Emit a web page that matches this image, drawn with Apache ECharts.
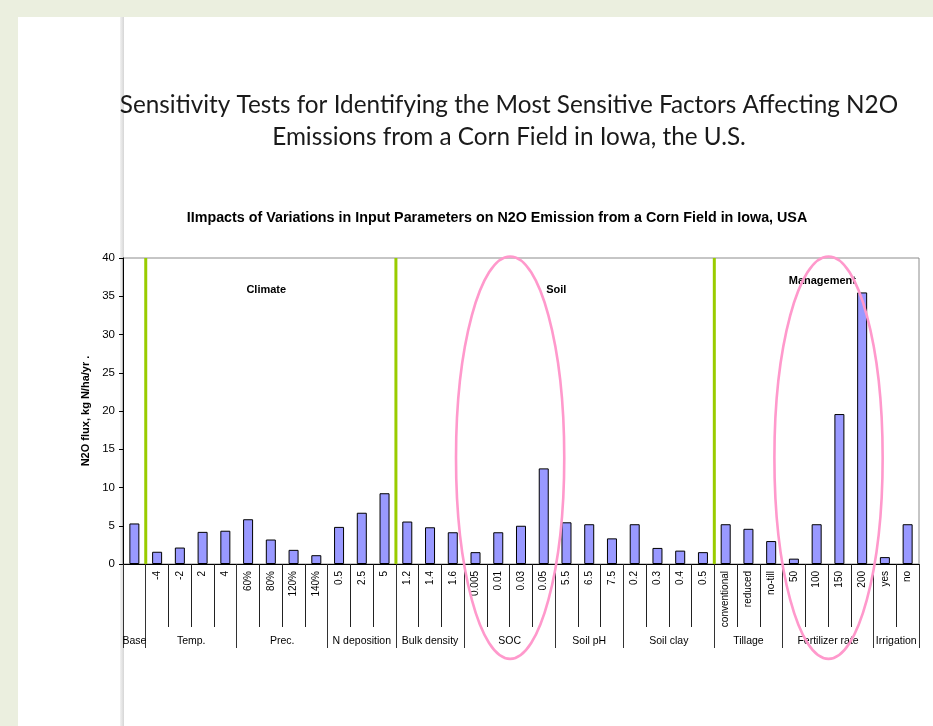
<!DOCTYPE html>
<html><head><meta charset="utf-8">
<script src="https://cdn.jsdelivr.net/npm/echarts@6/dist/echarts.min.js"></script>
<style>
html,body{margin:0;padding:0;background:#EBEFDF;width:933px;height:726px;overflow:hidden;}
#slide{position:absolute;left:18px;top:17px;width:915px;height:709px;background:#fff;}
#shadow{position:absolute;left:120px;top:17px;width:4px;height:709px;background:linear-gradient(to right,#f2f2f2,#d6d6d6);}
#c{position:absolute;left:0;top:0;width:933px;height:726px;}
</style>
</head><body><div id="slide"></div><div id="shadow"></div><div id="c"></div>
<script>
// ---- data ----
const categories = ['', '-4', '-2', '2', '4', '60%', '80%', '120%', '140%', '0.5', '2.5', '5',
  '1.2', '1.4', '1.6', '0.005', '0.01', '0.03', '0.05', '5.5', '6.5', '7.5', '0.2', '0.3', '0.4', '0.5',
  'conventional', 'reduced', 'no-till', '50', '100', '150', '200', 'yes', 'no'];
const values = [5.3, 1.6, 2.15, 4.2, 4.35, 5.85, 3.2, 1.85, 1.15, 4.85, 6.7, 9.25,
  5.55, 4.8, 4.15, 1.55, 4.15, 5.0, 12.5, 5.45, 5.2, 3.35, 5.2, 2.1, 1.75, 1.55,
  5.2, 4.6, 3.0, 0.7, 5.2, 19.6, 35.5, 0.9, 5.2];
const groupNames = ['Base', 'Temp.', 'Prec.', 'N deposition', 'Bulk density', 'SOC', 'Soil pH', 'Soil clay', 'Tillage', 'Fertilizer rate', 'Irrigation'];
const groupSizes = [1, 4, 4, 3, 3, 4, 3, 4, 3, 4, 2];
const sectionNames = ['Climate', 'Soil', 'Management'];
const sectionStarts = [1, 12, 26];   // category index where each section begins
const yTicks = [0, 5, 10, 15, 20, 25, 30, 35, 40];

const slideTitle = 'Sensitivity Tests for Identifying the Most Sensitive Factors Affecting N2O\nEmissions from a Corn Field in Iowa, the U.S.';
const chartTitle = 'IImpacts of Variations in Input Parameters on N2O Emission from a Corn Field in Iowa, USA';
const yName = 'N2O flux, kg N/ha/yr .';

// ---- group axis (half-category resolution) ----
const nHalf = categories.length * 2 + 1;
const groupLabels = new Array(nHalf).fill('');
const groupTicks = new Set([nHalf - 1]);
let s = 0;
groupNames.forEach((g, i) => { groupTicks.add(2 * s); groupLabels[2 * s + groupSizes[i]] = g; s += groupSizes[i]; });

const chart = echarts.init(document.getElementById('c'), null, {renderer: 'canvas'});
const font = 'Liberation Sans, Arial, sans-serif';
chart.setOption({
  backgroundColor: 'transparent',
  animation: false,
  textStyle: {fontFamily: font},
  grid: {left: 123, right: 14, top: 258, bottom: 162, show: true, borderColor: '#8c8c8c', borderWidth: 1, backgroundColor: 'transparent'},
  xAxis: [{
    type: 'category', data: categories, position: 'bottom', boundaryGap: true,
    axisLine: {lineStyle: {color: '#000', width: 1}},
    axisTick: {show: true, length: 63, interval: 0, lineStyle: {color: '#222'}},
    axisLabel: {interval: 0, rotate: 90, fontSize: 10, color: '#000', margin: 7, fontFamily: font}
  }, {
    type: 'category', data: groupLabels, position: 'bottom', boundaryGap: false,
    axisLine: {show: false},
    axisTick: {show: true, length: 84, interval: (i) => groupTicks.has(i), lineStyle: {color: '#333'}},
    axisLabel: {interval: 0, fontSize: 10.5, color: '#000', margin: 72, fontFamily: font}
  }],
  yAxis: {
    type: 'value', min: 0, max: 40, interval: 5,
    name: yName, nameLocation: 'middle', nameGap: 30, nameRotate: 90,
    nameTextStyle: {fontSize: 11, fontWeight: 'bold', color: '#000', fontFamily: font},
    axisLine: {show: true, lineStyle: {color: '#000'}},
    axisTick: {show: true, length: 4, lineStyle: {color: '#000'}},
    axisLabel: {fontSize: 11.5, color: '#000', margin: 8, fontFamily: font,
      formatter: (v) => yTicks.includes(v) ? String(v) : ''},
    splitLine: {show: false}
  },
  series: [{
    type: 'bar', data: values, barWidth: '44%', xAxisIndex: 0,
    itemStyle: {color: '#9999FF', borderColor: '#000', borderWidth: 1}
  }]
});

function px(i) { return chart.convertToPixel({xAxisIndex: 0}, i); }
function py(v) { return chart.convertToPixel({yAxisIndex: 0}, v); }
function boundary(i) { return (px(i - 1) + px(i)) / 2; }
const step = px(1) - px(0);

const g = [];
g.push({type: 'text', x: 509, y: 121, z: 10, style: {text: slideTitle, font: '24.3px Lato, sans-serif', fill: '#1a1a1a', textAlign: 'center', textVerticalAlign: 'middle', lineHeight: 32}});
g.push({type: 'text', x: 497, y: 218, z: 10, style: {text: chartTitle, font: 'bold 14.3px ' + font, fill: '#000', textAlign: 'center', textVerticalAlign: 'middle'}});
sectionStarts.forEach((st) => {
  g.push({type: 'line', z: 5, shape: {x1: boundary(st), y1: py(40), x2: boundary(st), y2: py(0)}, style: {stroke: '#99CC00', lineWidth: 3}});
});
// section labels placed in data space
const secPos = [[6.3, 35.8], [19.05, 35.8], [30.75, 37.0]];
sectionNames.forEach((n, i) => {
  const x = chart.convertToPixel({xAxisIndex: 0}, 0) + secPos[i][0] * step - step / 2;
  g.push({type: 'text', z: 10, x: x, y: py(secPos[i][1]), style: {text: n, font: 'bold 11px ' + font, fill: '#000', textAlign: 'center', textVerticalAlign: 'middle'}});
});
// highlight ellipses (SOC and Fertilizer rate)
[17, 31].forEach((b) => {
  g.push({type: 'ellipse', z: 20, shape: {cx: boundary(b) + 0.5, cy: py(13.9), rx: step * 2.38, ry: py(0) - py(26.3)}, style: {fill: 'none', stroke: '#FF99CC', lineWidth: 2.6}});
});
chart.setOption({graphic: g});
</script>
</body></html>
